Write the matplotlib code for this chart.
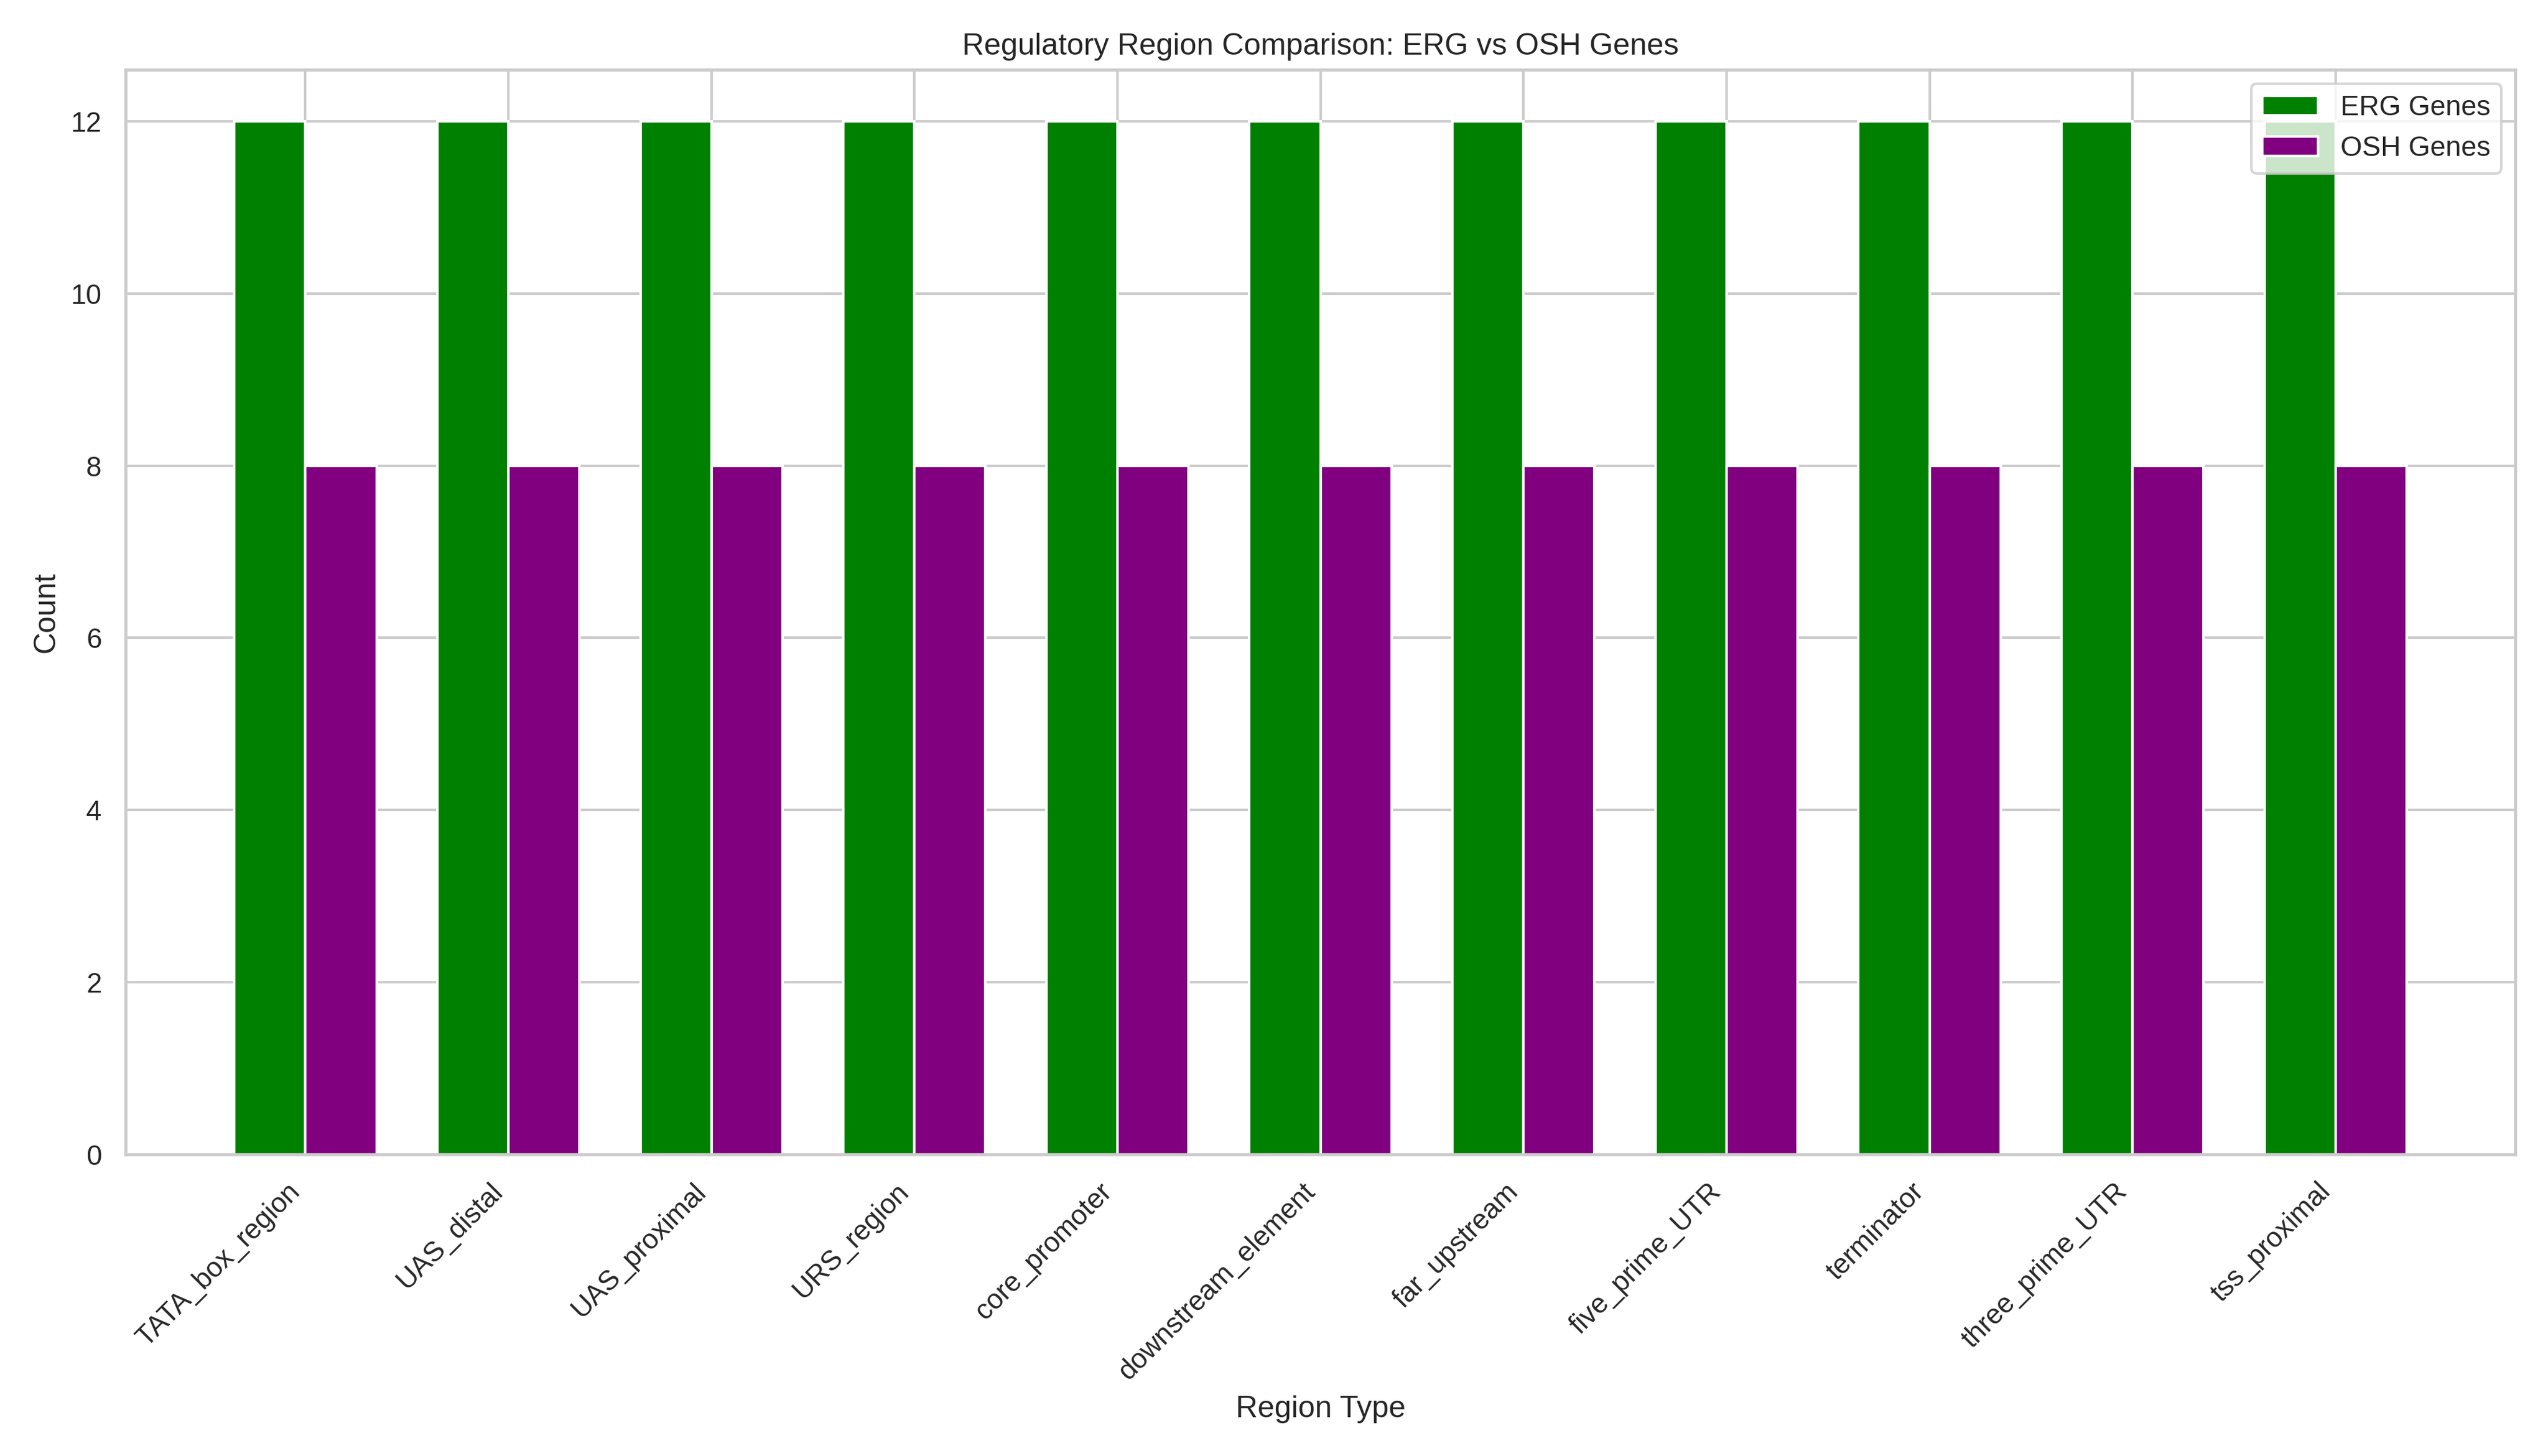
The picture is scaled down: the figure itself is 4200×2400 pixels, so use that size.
import matplotlib
matplotlib.use("Agg")
import matplotlib.pyplot as plt
import seaborn as sns
import numpy as np

sns.set_theme(style="whitegrid")
plt.rcParams['font.family'] = ['Arial', 'Liberation Sans', 'DejaVu Sans']

regions = ["TATA_box_region", "UAS_distal", "UAS_proximal", "URS_region", "core_promoter",
           "downstream_element", "far_upstream", "five_prime_UTR", "terminator",
           "three_prime_UTR", "tss_proximal"]
erg_counts = [12] * 11
osh_counts = [8] * 11

fig, ax = plt.subplots(figsize=(14, 8), dpi=300)
x = np.arange(len(regions))
w = 0.35
ax.bar(x - w / 2, erg_counts, w, label="ERG Genes", color="green")
ax.bar(x + w / 2, osh_counts, w, label="OSH Genes", color="purple")
ax.set_xticks(x)
ax.set_xticklabels(regions, rotation=45, ha="right")
ax.set_xlabel("Region Type")
ax.set_ylabel("Count")
ax.set_title("Regulatory Region Comparison: ERG vs OSH Genes")
ax.legend(loc="upper right")
fig.tight_layout()
fig.savefig("out.png", dpi=300)
